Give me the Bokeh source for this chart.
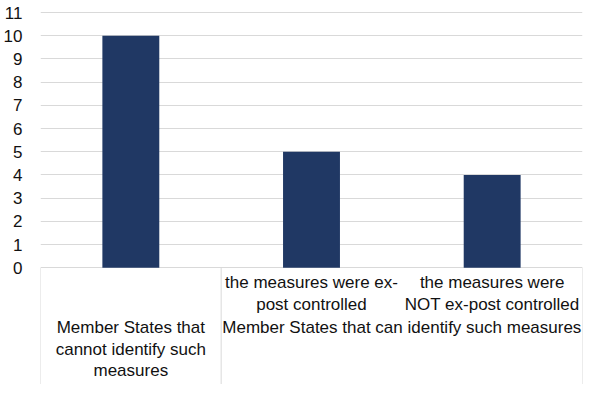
from bokeh.plotting import figure
from bokeh.models import Range1d, FixedTicker
from bokeh.core.properties import value
from bokeh.embed import file_html
from bokeh.resources import INLINE

# ---- data ----
categories = ["Member States that\ncannot identify such\nmeasures",
              "the measures were ex-\npost controlled",
              "the measures were\nNOT ex-post controlled"]
group_label = "Member States that can identify such measures"
values = [10, 5, 4]
y_ticks = list(range(0, 12))

# ---- layout ----
W, H = 584, 384
top_b, bot_b, left_b, right_b = 6, 0, 36, 2
frame_h = H - top_b - bot_b
ppu = 23.2
y_hi = 11 + 6 / ppu
y_lo = y_hi - frame_h / ppu

FONT = value("Liberation Sans")
FS = "17px"
TXT = "#111111"
GRID = "#d9d9d9"

p = figure(width=W, height=H, output_backend="svg", toolbar_location=None,
           x_range=Range1d(0, len(values)), y_range=Range1d(y_lo, y_hi),
           x_axis_location=None)
p.min_border_top = top_b
p.min_border_bottom = bot_b
p.min_border_left = left_b
p.min_border_right = right_b
p.outline_line_color = None
p.background_fill_color = "white"
p.border_fill_color = "white"

ax = p.yaxis[0]
ax.ticker = FixedTicker(ticks=y_ticks)
ax.axis_line_color = None
ax.major_tick_line_color = None
ax.minor_tick_line_color = None
ax.major_label_text_font = "Liberation Sans"
ax.major_label_text_font_size = FS
ax.major_label_text_color = TXT
ax.major_label_standoff = 12

p.xgrid.visible = False
p.ygrid.grid_line_color = GRID
p.ygrid.grid_line_width = 1
p.ygrid.ticker = FixedTicker(ticks=y_ticks)

xs = [i + 0.5 for i in range(len(values))]
p.vbar(x=xs, top=values, bottom=0, width=0.315, fill_color="#203864",
       line_color=None)

# category table separators
seps = [0, 1, len(values)]
p.segment(x0=seps, y0=[0] * len(seps), x1=seps, y1=[y_lo] * len(seps),
          line_color=GRID, line_width=1)

def below(px):
    return -px / ppu

# first category spans both levels (outer row)
p.text(x=[xs[0]], y=[below(50)], text=[categories[0]], text_font=FONT,
       text_font_size=FS, text_color=TXT, text_align="center",
       text_baseline="top", text_line_height=1.15)
# inner labels
p.text(x=xs[1:], y=[below(5)] * 2, text=categories[1:], text_font=FONT,
       text_font_size=FS, text_color=TXT, text_align="center",
       text_baseline="top", text_line_height=1.15)
# group label
p.text(x=[(xs[1] + xs[2]) / 2], y=[below(50)], text=[group_label],
       text_font=FONT, text_font_size=FS, text_color=TXT,
       text_align="center", text_baseline="top")

open("out.html", "w").write(file_html(p, INLINE))
